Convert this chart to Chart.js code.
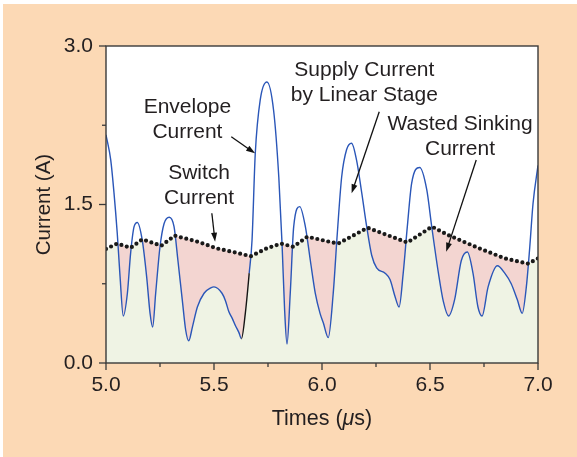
<!DOCTYPE html>
<html><head><meta charset="utf-8">
<script src="https://cdn.jsdelivr.net/npm/chart.js@4/dist/chart.umd.min.js"></script>
<style>
html,body{margin:0;padding:0;background:#fff;width:577px;height:457px;overflow:hidden}
#wrap{position:absolute;left:3px;top:4px;width:574px;height:453px;background:#FCD9B5}
canvas{display:block}
</style></head><body>
<div id="wrap"><canvas id="c" width="574" height="453"></canvas></div>
<script>
// ---- data ----
const envelopeTimes = [5.000,5.022,5.037,5.052,5.065,5.080,5.099,5.114,5.130,5.145,5.168,5.188,5.204,5.216,5.230,5.250,5.269,5.293,5.315,5.333,5.353,5.369,5.383,5.400,5.423,5.454,5.485,5.500,5.537,5.553,5.568,5.585,5.600,5.615,5.627,5.645,5.663,5.676,5.691,5.714,5.745,5.776,5.800,5.815,5.827,5.838,5.853,5.869,5.897,5.923,5.946,5.969,5.991,6.006,6.029,6.052,6.071,6.091,6.114,6.137,6.160,6.184,6.207,6.230,6.253,6.292,6.315,6.338,6.357,6.376,6.395,6.415,6.452,6.485,6.508,6.539,6.562,6.586,6.614,6.645,6.673,6.699,6.722,6.741,6.769,6.812,6.846,6.876,6.904,6.927,6.946,6.962,6.977,7.000];
const envelopeCurrent = [2.16,1.92,1.61,1.23,0.82,0.445,0.66,1.04,1.29,1.33,1.16,0.82,0.47,0.34,0.66,1.10,1.32,1.38,1.29,0.97,0.60,0.31,0.21,0.34,0.53,0.66,0.71,0.72,0.66,0.59,0.49,0.42,0.35,0.29,0.23,0.47,0.85,1.16,1.98,2.49,2.66,2.39,1.76,1.13,0.50,0.18,0.66,1.29,1.48,1.29,0.97,0.66,0.47,0.38,0.24,0.66,1.23,1.76,2.02,2.08,1.92,1.61,1.29,1.02,0.90,0.85,0.79,0.63,0.53,0.85,1.29,1.70,1.85,1.64,1.29,0.85,0.58,0.445,0.60,0.97,1.05,0.85,0.53,0.445,0.72,0.92,0.85,0.75,0.60,0.47,0.72,1.10,1.51,1.87];
const switchTimes = [5.000,5.052,5.114,5.168,5.256,5.318,5.430,5.512,5.590,5.670,5.744,5.810,5.867,5.932,6.029,6.075,6.211,6.395,6.509,6.585,6.722,6.846,6.954,7.000];
const switchCurrent = [1.08,1.13,1.09,1.17,1.11,1.205,1.145,1.085,1.05,1.01,1.085,1.13,1.10,1.195,1.15,1.13,1.28,1.14,1.29,1.21,1.09,0.99,0.94,0.99];
const xTickLabels = ['5.0','5.5','6.0','6.5','7.0'];
const yTickLabels = ['0.0','1.5','3.0'];
const yAxisTitle = 'Current (A)';
const xAxisTitleParts = ['Times (', 'μ', 's)'];
const annotationTexts = [['Envelope','Current'],['Switch','Current'],['Supply Current','by Linear Stage'],['Wasted Sinking','Current']];

// ---- styling / placement (data units) ----
const FONT = '"Liberation Sans", Arial, Helvetica, sans-serif';
const TEXT = '#231F20';
const annotationPlace = [
  {x:5.377, y:2.369, ax:[5.580,2.142], bx:[5.690,1.984]},
  {x:5.431, y:1.738, ax:[5.490,1.417], bx:[5.505,1.148]},
  {x:6.196, y:2.713, ax:[6.265,2.378], bx:[6.137,1.606]},
  {x:6.639, y:2.205, ax:[6.714,1.921], bx:[6.575,1.053]}
];

const envPts = envelopeTimes.map((t,i)=>({x:t,y:envelopeCurrent[i]}));
const swPts = switchTimes.map((t,i)=>({x:t,y:switchCurrent[i]}));
const NONE = 'rgba(0,0,0,0)';

const framePlugin = {
  id:'frame',
  beforeDraw(chart){
    const {ctx, chartArea:a} = chart;
    ctx.save(); ctx.fillStyle='#fff'; ctx.fillRect(a.left,a.top,a.right-a.left,a.bottom-a.top); ctx.restore();
  },
  afterDatasetsDraw(chart){
    const {ctx, chartArea:a, scales} = chart;
    ctx.save();
    ctx.strokeStyle='#3a3a3a'; ctx.lineWidth=1.4;
    ctx.strokeRect(a.left,a.top,a.right-a.left,a.bottom-a.top);
    ctx.lineWidth=1.3;
    scales.x.ticks.forEach(t=>{
      const px = scales.x.getPixelForValue(t.value);
      const major = Math.abs(t.value*2-Math.round(t.value*2))<1e-6;
      ctx.beginPath(); ctx.moveTo(px,a.bottom); ctx.lineTo(px,a.bottom+(major?7:4)); ctx.stroke();
    });
    scales.y.ticks.forEach(t=>{
      const py = scales.y.getPixelForValue(t.value);
      const major = Math.abs(t.value/1.5-Math.round(t.value/1.5))<1e-6;
      ctx.beginPath(); ctx.moveTo(a.left,py); ctx.lineTo(a.left-(major?7:4),py); ctx.stroke();
    });
    ctx.restore();
  },
  afterDraw(chart){
    const {ctx, chartArea:a, scales} = chart;
    ctx.save();
    ctx.fillStyle=TEXT; ctx.strokeStyle='#111';
    ctx.textBaseline='alphabetic'; ctx.textAlign='center';
    ctx.font = '21px '+FONT;
    annotationTexts.forEach((lines,i)=>{
      const p = annotationPlace[i];
      const cx = scales.x.getPixelForValue(p.x);
      const by = scales.y.getPixelForValue(p.y);
      lines.forEach((s,j)=>ctx.fillText(s,cx,by+j*25));
      const x1=scales.x.getPixelForValue(p.ax[0]), y1=scales.y.getPixelForValue(p.ax[1]);
      const x2=scales.x.getPixelForValue(p.bx[0]), y2=scales.y.getPixelForValue(p.bx[1]);
      const ang=Math.atan2(y2-y1,x2-x1), L=9, W=3;
      ctx.lineWidth=1.3;
      ctx.beginPath(); ctx.moveTo(x1,y1); ctx.lineTo(x2-Math.cos(ang)*L*0.8,y2-Math.sin(ang)*L*0.8); ctx.stroke();
      ctx.beginPath();
      ctx.moveTo(x2,y2);
      ctx.lineTo(x2-Math.cos(ang)*L+Math.sin(ang)*W, y2-Math.sin(ang)*L-Math.cos(ang)*W);
      ctx.lineTo(x2-Math.cos(ang)*L-Math.sin(ang)*W, y2-Math.sin(ang)*L+Math.cos(ang)*W);
      ctx.closePath(); ctx.fillStyle='#111'; ctx.fill(); ctx.fillStyle=TEXT;
    });
    // x axis title with italic mu
    const normal='21.5px '+FONT, italic='italic 21.5px '+FONT;
    const fonts=[normal,italic,normal];
    let widths = xAxisTitleParts.map((s,i)=>{ctx.font=fonts[i]; return ctx.measureText(s).width;});
    const total = widths.reduce((p,c)=>p+c,0);
    let x = (a.left+a.right)/2 - total/2;
    ctx.textAlign='left';
    xAxisTitleParts.forEach((s,i)=>{ctx.font=fonts[i]; ctx.fillText(s,x,421); x+=widths[i];});
    ctx.restore();
  }
};

new Chart(document.getElementById('c'), {
  type:'line',
  data:{datasets:[
    {data:swPts, fill:'origin', backgroundColor:'#F3D5D1', borderColor:NONE, borderWidth:0, pointRadius:0, tension:0, order:5},
    {data:envPts, fill:'origin', backgroundColor:'#EFF3E4', borderColor:NONE, borderWidth:0, pointRadius:0, cubicInterpolationMode:'monotone', order:4},
    {data:swPts, fill:'end', backgroundColor:'#FFFFFF', borderColor:NONE, borderWidth:0, pointRadius:0, tension:0, order:3},
    {data:envPts, fill:false, borderColor:'#2A56B8', borderWidth:1.4, pointRadius:0, cubicInterpolationMode:'monotone', order:2,
      segment:{borderColor:c=>(c.p0.parsed.x>=5.62 && c.p1.parsed.x<=5.67)?'#151515':undefined}},
    {data:swPts, fill:false, borderColor:'#1A1A1A', borderWidth:4.2, borderDash:[0,5.6], borderCapStyle:'round', pointRadius:0, tension:0, order:1}
  ]},
  options:{
    responsive:false, animation:false, devicePixelRatio:1,
    layout:{padding:{top:42,right:39,left:0,bottom:0}},
    plugins:{legend:{display:false}, tooltip:{enabled:false}},
    scales:{
      x:{type:'linear', min:5, max:7,
        grid:{display:false, drawTicks:false}, border:{display:false},
        ticks:{stepSize:0.25, autoSkip:false, maxRotation:0, padding:10, color:TEXT, font:{family:FONT,size:21},
          callback:v=>{const s=v.toFixed(1); return (Math.abs(v*2-Math.round(v*2))<1e-6 && xTickLabels.includes(s))?s:'';}},
        afterFit:s=>{s.height=94;}
      },
      y:{type:'linear', min:0, max:3,
        grid:{display:false, drawTicks:false}, border:{display:false},
        ticks:{stepSize:0.75, autoSkip:false, padding:13, color:TEXT, font:{family:FONT,size:21},
          callback:v=>{const s=v.toFixed(1); return (Math.abs(v/1.5-Math.round(v/1.5))<1e-6 && yTickLabels.includes(s))?s:'';}},
        title:{display:true, text:yAxisTitle, color:TEXT, font:{family:FONT,size:20.5}, padding:{top:29,bottom:0}},
        afterFit:s=>{s.width=103;}
      }
    }
  },
  plugins:[framePlugin]
});
</script>
</body></html>
